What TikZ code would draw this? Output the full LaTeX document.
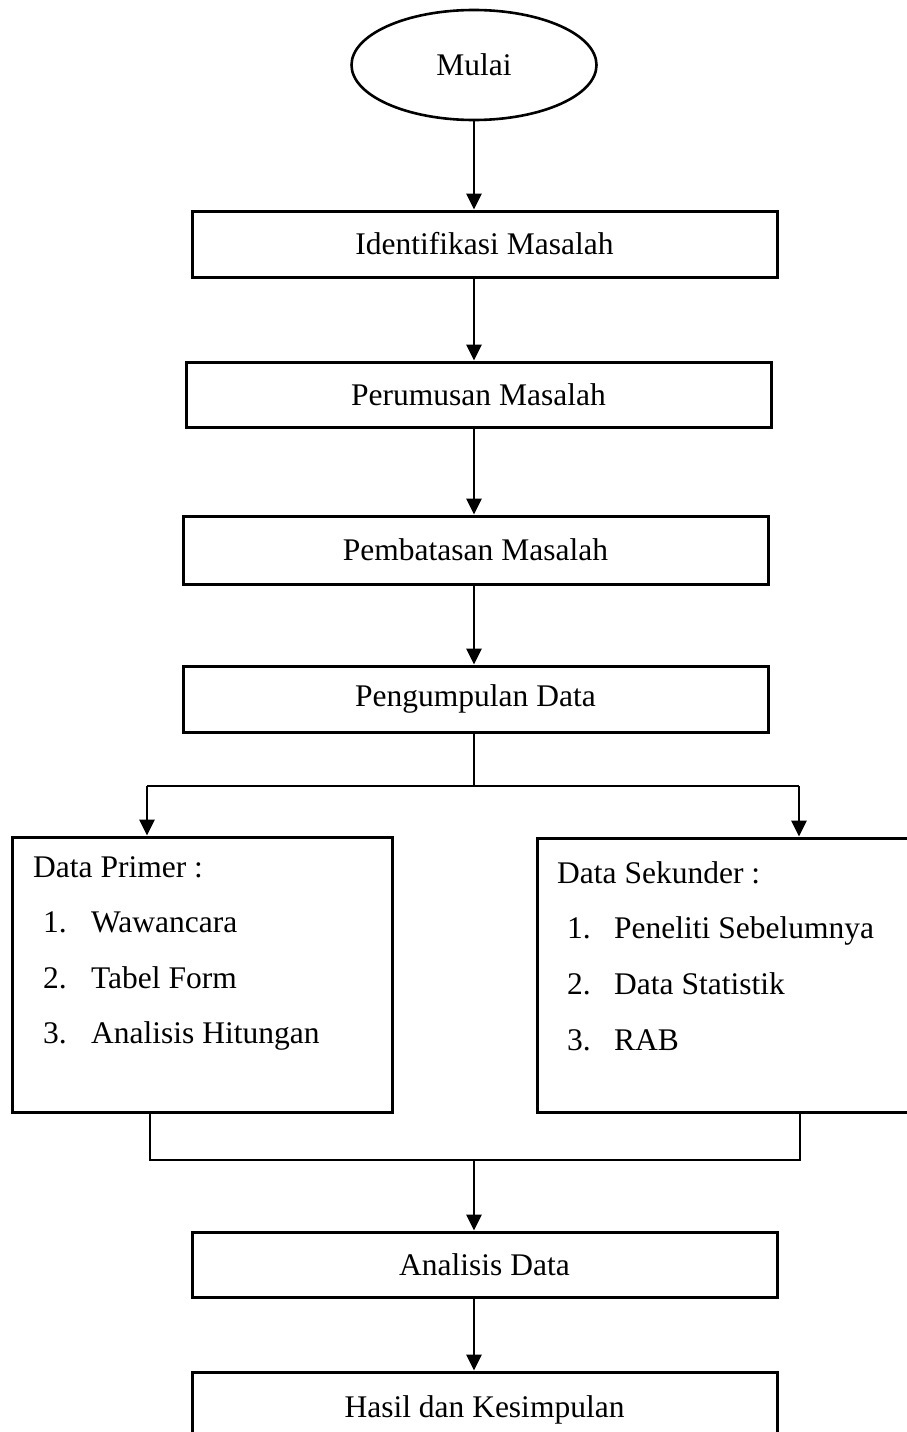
\documentclass[tikz,border=0pt]{standalone}
\usepackage{fontspec}
\setmainfont{Liberation Serif}
\usetikzlibrary{shapes.geometric,arrows.meta}

\begin{document}
\begin{tikzpicture}[x=1pt, y=-1pt,
    every node/.style={font=\fontsize{31.5}{38}\selectfont},
    box/.style={draw, line width=3pt, minimum width=585pt, minimum height=66pt, inner sep=0pt},
    txt/.style={anchor=base west, inner sep=0pt},
    arr/.style={line width=2.8pt, -{Triangle[length=16pt,width=15pt]}},
    thinline/.style={line width=1.1pt}]
    \clip (0,0) rectangle (907,1432);
\node[draw, ellipse, line width=2.6pt, minimum width=245pt, minimum height=110pt] (mulai) at (474,65) {Mulai};
\node[box] (identifikasi) at (484.5,244) {Identifikasi Masalah};
\node[box, minimum height=65pt] (perumusan) at (478.5,394.5) {Perumusan Masalah};
\node[box, minimum height=68pt] (pembatasan) at (475.5,550) {Pembatasan Masalah};
\node[box] (pengumpulan) at (475.5,699) {Pengumpulan Data};
\node[box, minimum width=380pt, minimum height=275pt] (primer) at (202,974.5) {};
\node[box, minimum width=390pt, minimum height=274pt] (sekunder) at (732,975) {};
\node[box, minimum height=65pt] (analisis) at (484.5,1264.5) {Analisis Data};
\node[box, minimum height=76pt] (hasil) at (484.5,1410) {Hasil dan Kesimpulan};
\node[txt] (primerjudul) at (33,877) {Data Primer :};
\node[txt] (primer1) at (43,932) {\makebox[48pt][l]{1.}Wawancara};
\node[txt] (primer2) at (43,988) {\makebox[48pt][l]{2.}Tabel Form};
\node[txt] (primer3) at (43,1043) {\makebox[48pt][l]{3.}Analisis Hitungan};
\node[txt] (sekunderjudul) at (557,883) {Data Sekunder :};
\node[txt] (sekunder1) at (567,938) {\makebox[47pt][l]{1.}Peneliti Sebelumnya};
\node[txt] (sekunder2) at (567,994) {\makebox[47pt][l]{2.}Data Statistik};
\node[txt] (sekunder3) at (567,1050) {\makebox[47pt][l]{3.}RAB};
\draw[arr] (mulai.south) -- (identifikasi.north -| mulai);
\draw[arr] (identifikasi.south -| mulai) -- (perumusan.north -| mulai);
\draw[arr] (perumusan.south -| mulai) -- (pembatasan.north -| mulai);
\draw[arr] (pembatasan.south -| mulai) -- (pengumpulan.north -| mulai);
    \coordinate (cabang) at (474,786);
    \coordinate (cabangkiri) at (147,786);
    \coordinate (cabangkanan) at (799,786);
\draw[thinline] (pengumpulan.south -| cabang) -- (cabang);
\draw[thinline] (cabangkiri) -- (cabangkanan);
\draw[arr] (cabangkiri) -- (cabangkiri |- primer.north);
\draw[arr] (cabangkanan) -- (cabangkanan |- sekunder.north);
    \coordinate (gabung) at (474,1160);
    \coordinate (gabungkiri) at (150,1160);
    \coordinate (gabungkanan) at (800,1160);
\draw[thinline] (gabungkiri |- primer.south) -- (gabungkiri) -- (gabungkanan) -- (gabungkanan |- sekunder.south);
\draw[arr] (gabung) -- (analisis.north -| gabung);
\draw[arr] (analisis.south -| gabung) -- (hasil.north -| gabung);
    \end{tikzpicture}
\end{document}
